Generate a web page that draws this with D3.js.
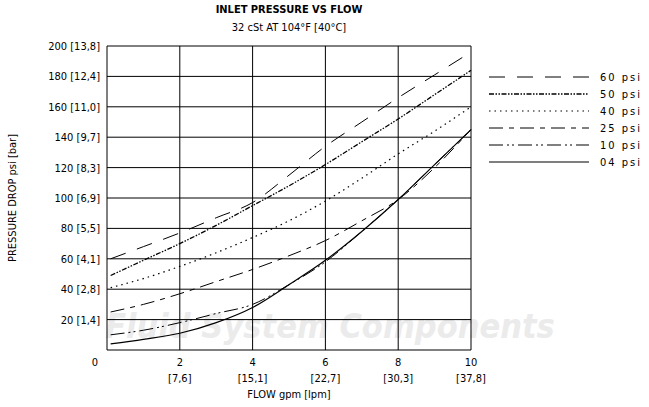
<!DOCTYPE html><html><head><meta charset="utf-8">
<script src="https://cdn.jsdelivr.net/npm/d3@7"></script>
<style>body{margin:0;background:#fff}text{font-family:"DejaVu Sans Condensed","DejaVu Sans",sans-serif}</style></head><body>
<svg id="c" width="649" height="407"></svg>
<script>
const flow=[0.1,1,2,3,4,5,6,7,8,9,10];
const names=["60 psi","50 psi","40 psi","25 psi","10 psi","04 psi"];
const p60=[60,68,77,87,97,115,134,150,166,181,196];
const p50=[49,59,70,82,95,108,122,137,152,168,184];
const p40=[41,47,55,64,74,85,98,113,129,144,160];
const p25=[25,30,37,45,53,62,72,85,99,120,145];
const p10=[10,13,18,24,30,43,58,78,99,122,145];
const p04=[4,7,11,18,28,43,59,78,99,122,145];
const xTicks=[0,2,4,6,8,10];
const xLpm=["","[7,6]","[15,1]","[22,7]","[30,3]","[37,8]"];
const yTicks=[0,20,40,60,80,100,120,140,160,180,200];
const yBar=["","[1,4]","[2,8]","[4,1]","[5,5]","[6,9]","[8,3]","[9,7]","[11,0]","[12,4]","[13,8]"];
const series=[p60,p50,p40,p25,p10,p04];
const dashes=["16,12","5,1.5,1.5,1.5,1.5,1.5","1.5,4","14,6,5,6","14,4,2,3,2,4",null];
const widths=[1,1.3,1.2,1,1,1.2];
const svg=d3.select("#c");
const x=d3.scaleLinear().domain([0,10]).range([107,471]);
const y=d3.scaleLinear().domain([0,200]).range([350,46]);
svg.append("text").attr("x",330).attr("y",338).attr("text-anchor","middle").attr("font-size",34).attr("font-weight","bold").attr("font-style","italic").attr("fill","#ebebeb").text("Fluid System Components");
const g=svg.append("g");
g.selectAll(".v").data(xTicks).join("line").attr("x1",d=>x(d)).attr("x2",d=>x(d)).attr("y1",y(0)).attr("y2",y(200)).attr("stroke","#000").attr("stroke-width",1);
g.selectAll(".h").data(yTicks).join("line").attr("x1",x(0)).attr("x2",x(10)).attr("y1",d=>y(d)).attr("y2",d=>y(d)).attr("stroke","#000").attr("stroke-width",1);
const ax=svg.append("g").attr("font-size",11);
ax.selectAll(".xt").data(xTicks).join("text").attr("x",d=>x(d)-(d==0?12:0)).attr("y",366).attr("text-anchor","middle").text(d=>d);
ax.selectAll(".xl").data(xTicks).join("text").attr("x",d=>x(d)).attr("y",382).attr("text-anchor","middle").text((d,i)=>xLpm[i]);
ax.selectAll(".yt").data(yTicks.slice(1)).join("text").attr("x",100).attr("y",d=>y(d)+4).attr("text-anchor","end").text((d,i)=>d+" "+yBar[i+1]);
svg.append("text").attr("x",289).attr("y",398).attr("text-anchor","middle").attr("font-size",11).text("FLOW gpm [lpm]");
svg.append("text").attr("transform","translate(16,198) rotate(-90)").attr("text-anchor","middle").attr("font-size",11).text("PRESSURE DROP psi [bar]");
svg.append("text").attr("x",289).attr("y",13).attr("text-anchor","middle").attr("font-size",11).attr("font-weight","bold").text("INLET PRESSURE VS FLOW");
svg.append("text").attr("x",289).attr("y",31).attr("text-anchor","middle").attr("font-size",11).text("32 cSt AT 104°F [40°C]");
const line=d3.line().x((d,i)=>x(flow[i])).y(d=>y(d)).curve(d3.curveMonotoneX);
series.forEach((s,k)=>{
 g.append("path").attr("d",line(s)).attr("fill","none").attr("stroke","#000").attr("stroke-width",widths[k]).attr("stroke-dasharray",dashes[k]);
 const ly=77+k*17;
 svg.append("line").attr("x1",489).attr("x2",589).attr("y1",ly).attr("y2",ly).attr("stroke","#000").attr("stroke-width",widths[k]).attr("stroke-dasharray",dashes[k]);
 svg.append("text").attr("x",600).attr("y",ly+4).attr("font-size",11).attr("letter-spacing",2).text(names[k]);
});
</script></body></html>
